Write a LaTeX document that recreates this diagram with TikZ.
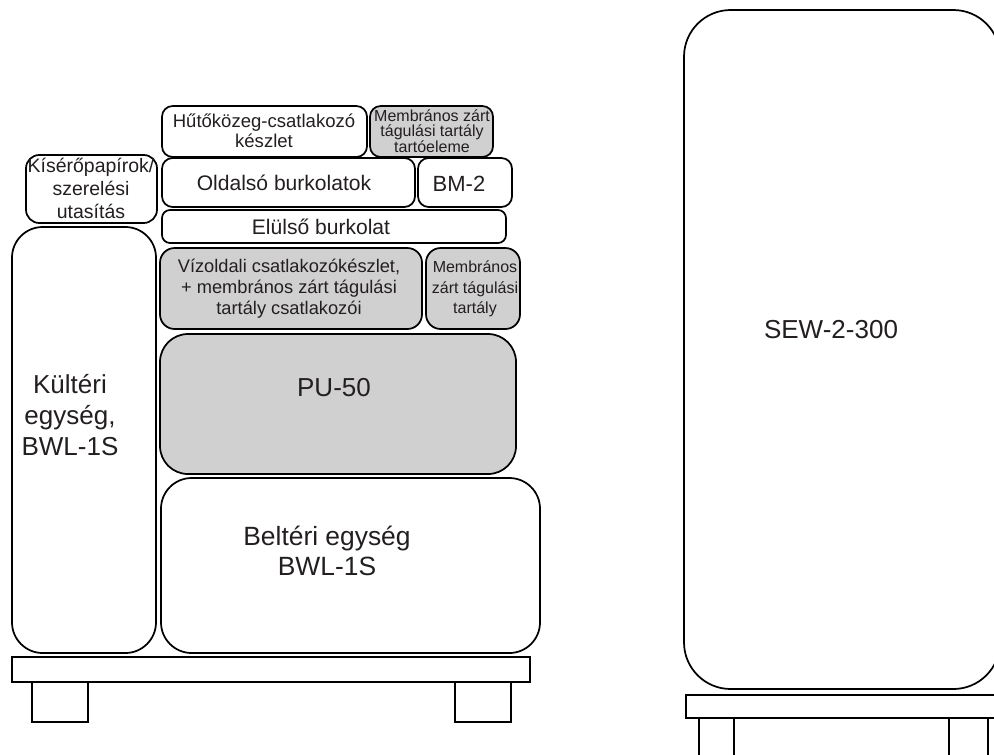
\documentclass[tikz,border=0pt]{standalone}
\usepackage{fontspec}
\setmainfont{Liberation Sans}
\usetikzlibrary{positioning}
\definecolor{boxgray}{RGB}{209,208,209}
\definecolor{txtgray}{RGB}{35,31,32}
\newcommand{\fsz}[2]{\fontsize{#1}{#2}\selectfont}

\begin{document}
\begin{tikzpicture}[x=0.75pt,y=-0.75pt,
  wbox/.style={draw=black,line width=1.3pt,fill=white},
  gbox/.style={wbox,fill=boxgray},
  lbl/.style={text=txtgray,align=center,inner sep=0pt}
]
  \useasboundingbox (0,0) rectangle (994,754);
  \clip (0,0) rectangle (994,754);
  % left pallet
  \draw[wbox,rounded corners=10pt] (26,155) rectangle (157,223);
  \draw[wbox,rounded corners=8pt] (162,106) rectangle (367,157);
  \draw[gbox,rounded corners=8pt] (370,106) rectangle (493,157);
  \draw[wbox,rounded corners=8pt] (162,158) rectangle (415,207);
  \draw[wbox,rounded corners=8pt] (418,158) rectangle (512,207);
  \draw[wbox,rounded corners=6pt] (162,210) rectangle (506,243);
  \draw[wbox,rounded corners=23pt] (12,227) rectangle (156,653);
  \draw[gbox,rounded corners=11pt] (160,248) rectangle (422,329);
  \draw[gbox,rounded corners=11pt] (426,248) rectangle (520,329);
  \draw[gbox,rounded corners=21pt] (160,334) rectangle (516,474);
  \draw[wbox,rounded corners=23pt] (161,478) rectangle (540,653);
  \draw[wbox] (12,657) rectangle (530,682);
  \draw[wbox] (32,682) rectangle (88,722);
  \draw[wbox] (455,682) rectangle (511,722);

  \node[lbl,font=\fsz{14.6pt}{17.2pt}] (kisero) at (91,188) {Kísérőpapírok/\\szerelési\\utasítás};
  \node[lbl,font=\fsz{13.9pt}{15pt}] (hutokozeg) at (264,131) {Hűtőközeg-csatlakozó\\készlet};
  \node[lbl,font=\fsz{12pt}{11.6pt}] (tartoelem) at (432,131) {Membrános zárt\\tágulási tartály\\tartóeleme};
  \node[lbl,font=\fsz{15.8pt}{18pt}] (oldalso) at (284,183) {Oldalsó burkolatok};
  \node[lbl,font=\fsz{16.5pt}{18pt}] (bm) at (459,184) {BM-2};
  \node[lbl,font=\fsz{15.8pt}{18pt}] (elulso) at (321,227) {Elülső burkolat};
  \node[lbl,font=\fsz{19.5pt}{23pt}] (kulteri) at (70,415) {Kültéri\\egység,\\BWL-1S};
  \node[lbl,font=\fsz{13.7pt}{15.8pt}] (vizoldali) at (289,289) {Vízoldali csatlakozókészlet,\\+ membrános zárt tágulási\\tartály csatlakozói};
  \node[lbl,font=\fsz{12pt}{15.5pt}] (tagulasi) at (475,289) {Membrános\\zárt tágulási\\tartály};
  \node[lbl,font=\fsz{19.5pt}{23pt}] (pu) at (334,388) {PU-50};
  \node[lbl,font=\fsz{19.8pt}{23pt}] (belteri) at (327,551) {Beltéri egység\\BWL-1S};

  % right pallet
  \draw[wbox,rounded corners=35pt] (684,10) rectangle (1000,689);
  \draw[wbox] (686,695) rectangle (1010,718);
  \draw[wbox] (699,718) rectangle (734,760);
  \draw[wbox] (949,718) rectangle (988,760);
  \node[lbl,font=\fsz{19.5pt}{23pt}] (sew) at (831,330) {SEW-2-300};
\end{tikzpicture}
\end{document}
